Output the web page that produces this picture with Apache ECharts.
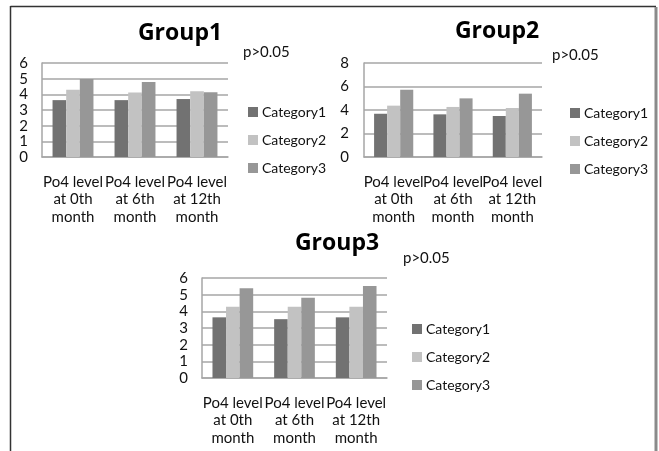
<!DOCTYPE html>
<html>
<head>
<meta charset="utf-8">
<script src="https://cdn.jsdelivr.net/npm/echarts@6/dist/echarts.min.js"></script>
<style>
html,body{margin:0;padding:0;background:#fff;}
#chart{width:659px;height:451px;}
</style>
</head>
<body>
<div id="chart"></div>
<script>
const categories = ['Po4 level\nat 0th\nmonth', 'Po4 level\nat 6th\nmonth', 'Po4 level\nat 12th\nmonth'];
const seriesNames = ['Category1', 'Category2', 'Category3'];
const groupTitles = ['Group1', 'Group2', 'Group3'];
const pValueText = 'p>0.05';

const group1Category1 = [3.63, 3.63, 3.70];
const group1Category2 = [4.30, 4.12, 4.20];
const group1Category3 = [4.98, 4.78, 4.14];

const group2Category1 = [3.68, 3.63, 3.49];
const group2Category2 = [4.37, 4.26, 4.17];
const group2Category3 = [5.73, 4.99, 5.39];

const group3Category1 = [3.64, 3.53, 3.64];
const group3Category2 = [4.28, 4.28, 4.28];
const group3Category3 = [5.38, 4.82, 5.52];

const yMax = [6, 8, 6];
const yInterval = [1, 2, 1];

const groupsData = [
  [group1Category1, group1Category2, group1Category3],
  [group2Category1, group2Category2, group2Category3],
  [group3Category1, group3Category2, group3Category3]
];

const colors = ['#727272', '#c2c2c2', '#979797'];
const FONT = 'Lato, "Open Sans", sans-serif';
const TFONT = '"Open Sans", Lato, sans-serif';
const TXT = '#111';

const grids = [
  {left: 42, top: 63, width: 186, height: 94},
  {left: 364, top: 63, width: 178, height: 94},
  {left: 202, top: 278, width: 185, height: 100}
];
const yLabelMargin = [14, 15, 14];
const titlePos = [[180, 33], [497, 31], [337, 243]];
const pPos = [[243, 52], [552, 55], [403, 258]];
const legendPos = [[248, 105], [570, 106], [412, 322]];

const series = [];
groupsData.forEach((g, gi) => {
  g.forEach((vals, si) => {
    series.push({
      type: 'bar',
      name: seriesNames[si],
      xAxisIndex: gi,
      yAxisIndex: gi,
      data: vals,
      barGap: '0%',
      barCategoryGap: '34%',
      itemStyle: {color: colors[si]},
      emphasis: {disabled: true},
      animation: false
    });
  });
});

const graphics = [
  {type: 'line', shape: {x1: 10.5, y1: 6.5, x2: 656, y2: 6.5}, style: {stroke: '#333', lineWidth: 1.5}},
  {type: 'line', shape: {x1: 10.5, y1: 6, x2: 10.5, y2: 451}, style: {stroke: '#333', lineWidth: 1.5}},
  {type: 'line', shape: {x1: 656, y1: 7, x2: 656, y2: 451}, style: {stroke: '#8a8a8a', lineWidth: 3}}
];
groupTitles.forEach((t, i) => {
  graphics.push({type: 'text', x: titlePos[i][0], y: titlePos[i][1],
    style: {text: t, font: 'bold 23px ' + TFONT, fill: '#000', align: 'center', verticalAlign: 'middle', textAlign: 'center', textVerticalAlign: 'middle'}});
  graphics.push({type: 'text', x: pPos[i][0], y: pPos[i][1],
    style: {text: pValueText, font: '15px ' + FONT, fill: TXT, align: 'left', verticalAlign: 'middle', textAlign: 'left', textVerticalAlign: 'middle'}});
});

const option = {
  animation: false,
  backgroundColor: '#fff',
  grid: grids.map(g => Object.assign({containLabel: false}, g)),
  xAxis: grids.map((g, i) => ({
    type: 'category', gridIndex: i, data: categories,
    axisLine: {show: true, lineStyle: {color: '#a6a6a6', width: 1.5}},
    axisTick: {show: false},
    axisLabel: {interval: 0, margin: 16, color: TXT, fontFamily: FONT, fontSize: 15, lineHeight: 17.5, align: 'center'}
  })),
  yAxis: grids.map((g, i) => ({
    type: 'value', gridIndex: i, min: 0, max: yMax[i], interval: yInterval[i],
    axisLine: {show: true, lineStyle: {color: '#a6a6a6', width: 1.5}},
    axisTick: {show: false},
    splitLine: {show: true, lineStyle: {color: '#a6a6a6', width: 1.5}},
    axisLabel: {margin: yLabelMargin[i], color: TXT, fontFamily: FONT, fontSize: 15, lineHeight: 10,
      showMinLabel: true, showMaxLabel: true, hideOverlap: false}
  })),
  legend: legendPos.map(p => ({
    data: seriesNames, orient: 'vertical', left: p[0], top: p[1], padding: 0,
    icon: 'rect', itemWidth: 10, itemHeight: 10, itemGap: 14,
    selectedMode: false,
    textStyle: {color: TXT, fontFamily: FONT, fontSize: 14, padding: [0, 0, 0, -1]}
  })),
  series: series,
  graphic: graphics
};

const chart = echarts.init(document.getElementById('chart'), null, {renderer: 'canvas'});
chart.setOption(option);
</script>
</body>
</html>
